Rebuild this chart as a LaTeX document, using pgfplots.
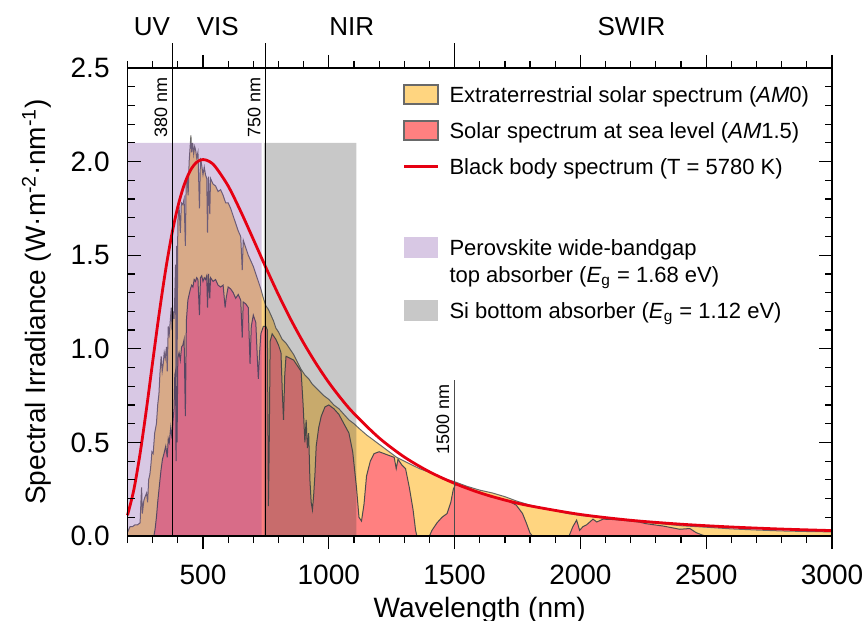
\documentclass[border=0pt]{standalone}
\usepackage{fontspec}
\setmainfont{Liberation Sans}
\usepackage{pgfplots}
\pgfplotsset{compat=1.18}
\usepackage{pgfplotstable}

\definecolor{amzero}{RGB}{255,213,128}
\definecolor{amone}{RGB}{255,128,128}
\definecolor{bbred}{RGB}{230,0,18}
\definecolor{perov}{RGB}{116,59,159}
\definecolor{sigray}{RGB}{59,59,59}
\definecolor{edgegray}{RGB}{105,105,105}

\pgfplotstableread{
nm val
200 0.02
210 0.05
220 0.05
230 0.06
240 0.06
250 0.07
254 0.20
256 0.26
259 0.12
265 0.19
270 0.21
276 0.23
280 0.18
284 0.30
289 0.33
293 0.38
297 0.45
302 0.44
308 0.55
315 0.60
320 0.70
325 0.76
329 0.87
334 0.96
338 0.88
342 0.92
346 0.98
350 0.95
355 1.01
358 0.88
362 1.12
366 1.08
370 1.15
374 1.22
377 1.10
381 1.20
385 1.16
388 1.28
391 1.45
393 0.75
395 1.55
397 0.85
400 1.68
405 1.76
410 1.62
414 1.78
420 1.77
425 1.80
430 1.55
433 1.88
437 1.92
441 1.82
445 2.00
449 2.08
452 2.14
455 2.05
459 2.10
463 2.04
467 2.08
471 2.06
475 2.02
480 2.05
486 1.75
490 2.02
495 1.98
500 1.93
505 1.97
510 1.93
515 1.91
518 1.62
522 1.92
527 1.72
530 1.91
540 1.88
550 1.87
560 1.84
570 1.85
580 1.82
590 1.78
600 1.78
610 1.75
620 1.71
630 1.67
640 1.63
650 1.60
656 1.42
660 1.58
670 1.54
680 1.50
690 1.47
700 1.44
710 1.40
720 1.36
730 1.32
740 1.27
750 1.23
760 1.21
770 1.18
780 1.15
790 1.11
800 1.09
815 1.05
830 1.03
845 1.00
860 0.97
875 0.93
890 0.89
905 0.86
920 0.84
935 0.81
950 0.79
965 0.77
980 0.75
1000 0.73
1020 0.70
1040 0.68
1060 0.65
1080 0.62
1100 0.60
1120 0.575
1150 0.54
1180 0.51
1210 0.48
1240 0.45
1270 0.42
1300 0.40
1330 0.38
1360 0.36
1400 0.34
1450 0.31
1500 0.29
1550 0.265
1600 0.245
1650 0.23
1700 0.21
1750 0.185
1800 0.165
1850 0.15
1900 0.135
1950 0.12
2000 0.11
2100 0.095
2200 0.08
2300 0.068
2400 0.055
2500 0.047
2600 0.038
2700 0.032
2800 0.027
2900 0.024
3000 0.022
}\amzerotab

\pgfplotstableread{
nm val
300 0
305 0.0
310 0.04
315 0.10
320 0.18
326 0.26
333 0.35
339 0.41
345 0.44
352 0.48
358 0.42
362 0.52
366 0.50
372 0.58
377 0.52
381 0.62
385 0.68
388 0.86
391 0.88
393 0.40
395 0.80
397 0.50
400 0.95
405 0.98
410 0.94
415 1.01
420 1.02
425 1.05
430 0.64
434 1.15
440 1.26
445 1.29
450 1.32
455 1.34
460 1.33
465 1.37
470 1.36
475 1.38
480 1.37
486 1.18
490 1.38
495 1.39
500 1.36
505 1.38
510 1.37
515 1.39
518 1.22
522 1.40
527 1.27
530 1.38
540 1.36
550 1.37
560 1.34
570 1.33
580 1.34
588 1.22
592 1.27
600 1.33
610 1.32
620 1.30
630 1.27
640 1.29
650 1.26
656 1.06
660 1.25
670 1.24
680 1.22
687 0.92
692 1.12
700 1.18
710 1.14
716 0.95
720 0.84
725 0.98
730 1.08
740 1.12
750 1.12
756 1.10
760 0.16
763 0.45
767 1.04
775 1.08
790 1.05
800 1.02
810 0.98
815 0.78
820 0.62
825 0.86
830 0.96
845 0.95
860 0.94
875 0.91
890 0.88
898 0.70
905 0.50
910 0.62
915 0.47
920 0.55
925 0.30
930 0.18
935 0.14
940 0.22
945 0.33
950 0.48
960 0.58
970 0.64
985 0.69
1000 0.70
1020 0.68
1040 0.65
1060 0.60
1080 0.55
1095 0.45
1110 0.26
1120 0.10
1130 0.08
1140 0.17
1150 0.32
1165 0.40
1180 0.44
1200 0.45
1220 0.44
1240 0.43
1260 0.42
1268 0.36
1275 0.41
1290 0.38
1305 0.36
1320 0.26
1335 0.14
1345 0.03
1350 0
1400 0
1410 0.03
1430 0.07
1450 0.10
1470 0.12
1485 0.18
1495 0.25
1505 0.28
1520 0.27
1550 0.26
1575 0.245
1600 0.235
1640 0.21
1680 0.20
1710 0.19
1745 0.165
1770 0.12
1785 0.07
1800 0.015
1810 0
1955 0
1970 0.05
1985 0.085
1997 0.03
2010 0.05
2025 0.06
2050 0.09
2065 0.075
2090 0.09
2130 0.088
2180 0.082
2235 0.074
2260 0.066
2330 0.053
2395 0.036
2435 0.04
2460 0.018
2487 0.004
2500 0
}\amonetab

\pgfplotstableread{
nm val
200 0.111
225 0.246
250 0.440
275 0.675
300 0.930
325 1.180
350 1.408
375 1.603
400 1.759
425 1.875
450 1.953
475 1.997
500 2.011
525 2.001
550 1.971
600 1.870
650 1.734
700 1.585
750 1.434
800 1.289
850 1.154
900 1.031
950 0.920
1000 0.820
1050 0.732
1100 0.654
1200 0.524
1300 0.422
1400 0.343
1500 0.281
1600 0.231
1700 0.192
1800 0.161
2000 0.115
2200 0.084
2400 0.063
2600 0.048
2800 0.037
3000 0.029
}\bbtab

\begin{document}
\begin{tikzpicture}
\begin{axis}[
  scale only axis,
  width=352.25pt, height=234pt,
  xmin=200, xmax=3000, ymin=0, ymax=2.5,
  axis on top, clip=false,
  xtick={500,1000,...,3000},
  minor xtick={200,300,...,3000},
  ytick={0,0.5,...,2.5},
  minor y tick num=4,
  xtick align=outside, ytick align=inside,
  major tick length=6.5pt, minor tick length=3.5pt,
  tick style={line width=0.6pt, black},
  axis line style={line width=0.9pt},
  /pgf/number format/assume math mode=true,
  xticklabel style={/pgf/number format/1000 sep={}, font=\fontsize{14}{16}\selectfont, inner sep=0pt, yshift=-8pt},
  yticklabel style={/pgf/number format/fixed, /pgf/number format/fixed zerofill, /pgf/number format/precision=1, font=\fontsize{14}{16}\selectfont, inner sep=0pt, xshift=-8.75pt},
  xlabel={Wavelength (nm)},
  xlabel style={at={(axis description cs:0.5,-0.17308)}, anchor=base, font=\fontsize{14}{16}\selectfont},
  ylabel={Spectral Irradiance (W·m\textsuperscript{-2}·nm\textsuperscript{-1})},
  ylabel style={at={(axis description cs:-0.1157,0.5)}, anchor=base, font=\fontsize{14}{16}\selectfont},
  legend cell align=left,
  legend style={at={(0.391,0.9658)}, anchor=north west, draw=none, fill=none,
    inner sep=0pt, outer sep=0pt, row sep=7.5pt, column sep=5pt,
    font=\fontsize{11}{13}\selectfont,
    nodes={inner sep=0pt, text height=8pt, text depth=0pt, anchor=west}},
]
% spectra
\addplot[fill=amzero, draw=none, forget plot] table {\amzerotab} \closedcycle;
\addplot[draw=edgegray, line width=0.5pt, forget plot] table {\amzerotab};
\addplot[fill=amone, draw=none, forget plot] table {\amonetab} \closedcycle;
\addplot[draw=black!70, line width=0.5pt, forget plot] table {\amonetab};
% absorber ranges
\addplot[fill=perov, fill opacity=0.28, draw=none, forget plot] coordinates {(200,0) (200,2.1) (733,2.1) (733,0)} \closedcycle;
\addplot[fill=sigray, fill opacity=0.28, draw=none, forget plot] coordinates {(742,0) (742,2.1) (1110,2.1) (1110,0)} \closedcycle;
% black body
\addplot[bbred, line width=1.4pt, smooth, forget plot] table {\bbtab};

% legend
\addlegendimage{legend image code/.code={\draw[fill=amzero, draw=edgegray, line width=0.9pt] (0pt,-4.8pt) rectangle (17pt,4.8pt);}}
\addlegendentry{Extraterrestrial solar spectrum (\textit{AM}0)}
\addlegendimage{legend image code/.code={\draw[fill=amone, draw=edgegray, line width=0.9pt] (0pt,-4.8pt) rectangle (17pt,4.8pt);}}
\addlegendentry{Solar spectrum at sea level (\textit{AM}1.5)}
\addlegendimage{legend image code/.code={\path[draw=none, fill=none] (0pt,-5.25pt) rectangle (17pt,5.25pt); \draw[bbred, line width=1.3pt] (0pt,0pt) -- (17pt,0pt);}}
\addlegendentry{Black body spectrum (T = 5780 K)}
\addlegendimage{legend image code/.code={\path[draw=none, fill=none] (0pt,-5.25pt) rectangle (17pt,5.25pt);}}
\addlegendentry{\mbox{}}
\addlegendimage{legend image code/.code={\path[draw=none, fill=none] (0pt,-5.25pt) rectangle (17pt,5.25pt); \fill[overlay, draw=none, perov, fill opacity=0.28] (0pt,-9.75pt) rectangle (17pt,0.75pt);}}
\addlegendentry{\raisebox{-4.5pt}[0pt][0pt]{Perovskite wide-bandgap}}
\addlegendimage{legend image code/.code={\path[draw=none, fill=none] (0pt,-5.25pt) rectangle (17pt,5.25pt);}}
\addlegendentry{top absorber (\textit{E}\textsubscript{g} = 1.68 eV)}
\addlegendimage{legend image code/.code={\fill[draw=none, sigray, fill opacity=0.28] (0pt,-5.25pt) rectangle (17pt,5.25pt);}}
\addlegendentry{Si bottom absorber (\textit{E}\textsubscript{g} = 1.12 eV)}

% region markers
\draw[black, line width=0.5pt] (axis cs:380,0) -- (axis cs:380,2.634);
\draw[black, line width=0.5pt] (axis cs:750,0) -- (axis cs:750,2.634);
\draw[black!70, line width=0.5pt] (axis cs:1500,0) -- (axis cs:1500,0.833);
\draw[black, line width=0.6pt] (axis cs:1500,2.5) -- (axis cs:1500,2.634);
\node[font=\fontsize{9}{10}\selectfont, rotate=90, anchor=south, inner sep=2.5pt] at (axis cs:380,2.29) {380 nm};
\node[font=\fontsize{9}{10}\selectfont, rotate=90, anchor=south, inner sep=2.5pt] at (axis cs:750,2.29) {750 nm};
\node[font=\fontsize{9}{10}\selectfont, rotate=90, anchor=south, inner sep=2.5pt] at (axis cs:1500,0.62) {1500 nm};
\node[font=\fontsize{13}{15}\selectfont, anchor=base] at (axis cs:297,2.676) {UV};
\node[font=\fontsize{13}{15}\selectfont, anchor=base] at (axis cs:559,2.676) {VIS};
\node[font=\fontsize{13}{15}\selectfont, anchor=base] at (axis cs:1091,2.676) {NIR};
\node[font=\fontsize{13}{15}\selectfont, anchor=base] at (axis cs:2203,2.676) {SWIR};

\coordinate (bbsw) at (rel axis cs:0,0);
\coordinate (bbne) at (rel axis cs:1,1);
\end{axis}
\pgfresetboundingbox
\path[use as bounding box] ([shift={(-63.75pt,-42pt)}]bbsw) rectangle ([shift={(16pt,34pt)}]bbne);
\end{tikzpicture}
\end{document}
